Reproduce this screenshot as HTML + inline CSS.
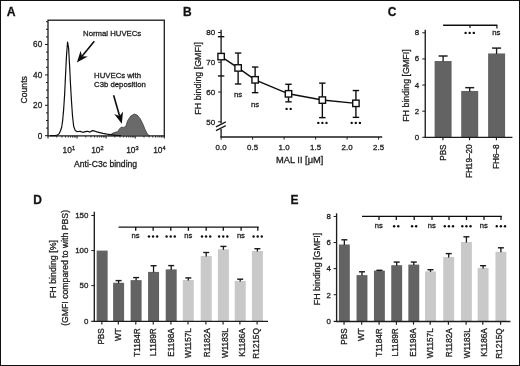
<!DOCTYPE html>
<html><head><meta charset="utf-8"><title>Figure</title>
<style>
html,body{margin:0;padding:0;background:#fff;width:520px;height:366px;overflow:hidden;}
svg{display:block;filter:grayscale(1);}
text{font-family:"Liberation Sans", sans-serif;stroke:#222;stroke-width:0.3px;}
</style></head><body>
<svg width="520" height="366" viewBox="0 0 520 366">
<defs><filter id="soft" x="-2%" y="-2%" width="104%" height="104%"><feGaussianBlur stdDeviation="0.3"/></filter></defs>
<rect x="0" y="0" width="520" height="366" fill="#fff"/>
<g filter="url(#soft)">
<text x="6.80" y="15.70" font-size="12.2" text-anchor="start" font-weight="bold" fill="#111">A</text>
<text x="182.90" y="15.80" font-size="12.0" text-anchor="start" font-weight="bold" fill="#111">B</text>
<text x="387.80" y="15.90" font-size="12.0" text-anchor="start" font-weight="bold" fill="#111">C</text>
<text x="33.30" y="203.90" font-size="12.0" text-anchor="start" font-weight="bold" fill="#111">D</text>
<text x="290.50" y="203.90" font-size="12.0" text-anchor="start" font-weight="bold" fill="#111">E</text>
<rect x="48.0" y="20.2" width="116.30000000000001" height="115.7" fill="none" stroke="#1c1c1c" stroke-width="1.3"/>
<line x1="45.00" y1="135.70" x2="48.00" y2="135.70" stroke="#1c1c1c" stroke-width="1.0"/>
<line x1="46.00" y1="128.10" x2="48.00" y2="128.10" stroke="#1c1c1c" stroke-width="1.0"/>
<line x1="46.00" y1="120.50" x2="48.00" y2="120.50" stroke="#1c1c1c" stroke-width="1.0"/>
<line x1="46.00" y1="112.90" x2="48.00" y2="112.90" stroke="#1c1c1c" stroke-width="1.0"/>
<line x1="45.00" y1="105.30" x2="48.00" y2="105.30" stroke="#1c1c1c" stroke-width="1.0"/>
<line x1="46.00" y1="97.70" x2="48.00" y2="97.70" stroke="#1c1c1c" stroke-width="1.0"/>
<line x1="46.00" y1="90.10" x2="48.00" y2="90.10" stroke="#1c1c1c" stroke-width="1.0"/>
<line x1="46.00" y1="82.50" x2="48.00" y2="82.50" stroke="#1c1c1c" stroke-width="1.0"/>
<line x1="45.00" y1="74.90" x2="48.00" y2="74.90" stroke="#1c1c1c" stroke-width="1.0"/>
<line x1="46.00" y1="67.30" x2="48.00" y2="67.30" stroke="#1c1c1c" stroke-width="1.0"/>
<line x1="46.00" y1="59.70" x2="48.00" y2="59.70" stroke="#1c1c1c" stroke-width="1.0"/>
<line x1="46.00" y1="52.10" x2="48.00" y2="52.10" stroke="#1c1c1c" stroke-width="1.0"/>
<line x1="45.00" y1="44.50" x2="48.00" y2="44.50" stroke="#1c1c1c" stroke-width="1.0"/>
<line x1="46.00" y1="36.90" x2="48.00" y2="36.90" stroke="#1c1c1c" stroke-width="1.0"/>
<line x1="46.00" y1="29.30" x2="48.00" y2="29.30" stroke="#1c1c1c" stroke-width="1.0"/>
<line x1="46.00" y1="21.70" x2="48.00" y2="21.70" stroke="#1c1c1c" stroke-width="1.0"/>
<text x="42.20" y="138.60" font-size="8.2" text-anchor="end" font-weight="normal" fill="#1e1e1e">0</text>
<text x="42.20" y="108.20" font-size="8.2" text-anchor="end" font-weight="normal" fill="#1e1e1e">20</text>
<text x="42.20" y="77.80" font-size="8.2" text-anchor="end" font-weight="normal" fill="#1e1e1e">40</text>
<text x="42.20" y="47.40" font-size="8.2" text-anchor="end" font-weight="normal" fill="#1e1e1e">60</text>
<text x="27.40" y="89.80" font-size="8.6" text-anchor="middle" font-weight="normal" fill="#1e1e1e" transform="rotate(-90 27.40 89.80)">Counts</text>
<line x1="48.00" y1="135.90" x2="48.00" y2="138.50" stroke="#1c1c1c" stroke-width="1.0"/>
<line x1="56.75" y1="135.90" x2="56.75" y2="137.50" stroke="#1c1c1c" stroke-width="0.9"/>
<line x1="61.87" y1="135.90" x2="61.87" y2="137.50" stroke="#1c1c1c" stroke-width="0.9"/>
<line x1="65.50" y1="135.90" x2="65.50" y2="137.50" stroke="#1c1c1c" stroke-width="0.9"/>
<line x1="68.32" y1="135.90" x2="68.32" y2="137.50" stroke="#1c1c1c" stroke-width="0.9"/>
<line x1="70.62" y1="135.90" x2="70.62" y2="137.50" stroke="#1c1c1c" stroke-width="0.9"/>
<line x1="72.57" y1="135.90" x2="72.57" y2="137.50" stroke="#1c1c1c" stroke-width="0.9"/>
<line x1="74.26" y1="135.90" x2="74.26" y2="137.50" stroke="#1c1c1c" stroke-width="0.9"/>
<line x1="75.74" y1="135.90" x2="75.74" y2="137.50" stroke="#1c1c1c" stroke-width="0.9"/>
<line x1="77.08" y1="135.90" x2="77.08" y2="138.50" stroke="#1c1c1c" stroke-width="1.0"/>
<line x1="85.83" y1="135.90" x2="85.83" y2="137.50" stroke="#1c1c1c" stroke-width="0.9"/>
<line x1="90.95" y1="135.90" x2="90.95" y2="137.50" stroke="#1c1c1c" stroke-width="0.9"/>
<line x1="94.58" y1="135.90" x2="94.58" y2="137.50" stroke="#1c1c1c" stroke-width="0.9"/>
<line x1="97.40" y1="135.90" x2="97.40" y2="137.50" stroke="#1c1c1c" stroke-width="0.9"/>
<line x1="99.70" y1="135.90" x2="99.70" y2="137.50" stroke="#1c1c1c" stroke-width="0.9"/>
<line x1="101.65" y1="135.90" x2="101.65" y2="137.50" stroke="#1c1c1c" stroke-width="0.9"/>
<line x1="103.33" y1="135.90" x2="103.33" y2="137.50" stroke="#1c1c1c" stroke-width="0.9"/>
<line x1="104.82" y1="135.90" x2="104.82" y2="137.50" stroke="#1c1c1c" stroke-width="0.9"/>
<line x1="106.15" y1="135.90" x2="106.15" y2="138.50" stroke="#1c1c1c" stroke-width="1.0"/>
<line x1="114.90" y1="135.90" x2="114.90" y2="137.50" stroke="#1c1c1c" stroke-width="0.9"/>
<line x1="120.02" y1="135.90" x2="120.02" y2="137.50" stroke="#1c1c1c" stroke-width="0.9"/>
<line x1="123.65" y1="135.90" x2="123.65" y2="137.50" stroke="#1c1c1c" stroke-width="0.9"/>
<line x1="126.47" y1="135.90" x2="126.47" y2="137.50" stroke="#1c1c1c" stroke-width="0.9"/>
<line x1="128.77" y1="135.90" x2="128.77" y2="137.50" stroke="#1c1c1c" stroke-width="0.9"/>
<line x1="130.72" y1="135.90" x2="130.72" y2="137.50" stroke="#1c1c1c" stroke-width="0.9"/>
<line x1="132.41" y1="135.90" x2="132.41" y2="137.50" stroke="#1c1c1c" stroke-width="0.9"/>
<line x1="133.89" y1="135.90" x2="133.89" y2="137.50" stroke="#1c1c1c" stroke-width="0.9"/>
<line x1="135.23" y1="135.90" x2="135.23" y2="138.50" stroke="#1c1c1c" stroke-width="1.0"/>
<line x1="143.98" y1="135.90" x2="143.98" y2="137.50" stroke="#1c1c1c" stroke-width="0.9"/>
<line x1="149.10" y1="135.90" x2="149.10" y2="137.50" stroke="#1c1c1c" stroke-width="0.9"/>
<line x1="152.73" y1="135.90" x2="152.73" y2="137.50" stroke="#1c1c1c" stroke-width="0.9"/>
<line x1="155.55" y1="135.90" x2="155.55" y2="137.50" stroke="#1c1c1c" stroke-width="0.9"/>
<line x1="157.85" y1="135.90" x2="157.85" y2="137.50" stroke="#1c1c1c" stroke-width="0.9"/>
<line x1="159.80" y1="135.90" x2="159.80" y2="137.50" stroke="#1c1c1c" stroke-width="0.9"/>
<line x1="161.48" y1="135.90" x2="161.48" y2="137.50" stroke="#1c1c1c" stroke-width="0.9"/>
<line x1="162.97" y1="135.90" x2="162.97" y2="137.50" stroke="#1c1c1c" stroke-width="0.9"/>
<line x1="164.30" y1="135.90" x2="164.30" y2="138.50" stroke="#1c1c1c" stroke-width="1.0"/>
<text x="62.60" y="153.1" font-size="8.4" fill="#1e1e1e">10<tspan dy="-3.6" font-size="5.6">1</tspan></text>
<text x="91.20" y="153.1" font-size="8.4" fill="#1e1e1e">10<tspan dy="-3.6" font-size="5.6">2</tspan></text>
<text x="126.20" y="153.1" font-size="8.4" fill="#1e1e1e">10<tspan dy="-3.6" font-size="5.6">3</tspan></text>
<text x="153.20" y="153.1" font-size="8.4" fill="#1e1e1e">10<tspan dy="-3.6" font-size="5.6">4</tspan></text>
<text x="105.60" y="166.80" font-size="8.6" text-anchor="middle" font-weight="normal" fill="#1e1e1e">Anti-C3c binding</text>
<path d="M108.5,135.8 L110.6,134.6 L113.7,132.7 L117.5,131.7 L119.6,128.8 L121.2,127.2 L123.8,127.4 L125.9,126.2 L127.5,120.9 L130.7,116.1 L134.4,114.0 L137.0,115.0 L140.2,118.7 L142.8,124.0 L145.0,129.3 L147.1,133.6 L148.7,135.1 L150.0,135.8 Z" fill="#6a6a6a" stroke="#3a3a3a" stroke-width="0.8"/>
<path d="M50.0,135.7 L55.0,135.6 L57.5,135.0 L59.2,133.6 L60.4,131.0 L61.6,127.5 L62.6,121.0 L63.6,110.0 L64.6,95.0 L65.5,76.0 L66.6,54.0 L67.6,42.0 L68.6,48.0 L69.6,66.0 L70.6,86.0 L71.6,103.0 L72.6,117.0 L73.7,126.5 L75.2,130.4 L77.0,131.6 L78.6,131.5 L80.3,131.4 L82.8,132.3 L85.2,131.7 L87.6,131.3 L90.0,132.1 L92.5,130.6 L94.9,131.2 L97.0,131.9 L99.7,132.6 L103.0,133.4 L107.0,134.1 L111.8,134.8 L116.0,135.4 L121.0,135.7" fill="none" stroke="#111" stroke-width="1.2" stroke-linejoin="round"/>
<line x1="94.30" y1="41.30" x2="82.01" y2="56.28" stroke="#111" stroke-width="1.6"/>
<path d="M76.90,62.50 L80.64,50.69 L82.01,56.28 L87.75,56.53 Z" fill="#111"/>
<line x1="113.60" y1="95.20" x2="119.58" y2="116.06" stroke="#111" stroke-width="1.6"/>
<path d="M121.80,123.80 L114.21,114.01 L119.58,116.06 L123.05,111.48 Z" fill="#111"/>
<text x="83.10" y="36.30" font-size="7.75" text-anchor="start" font-weight="normal" fill="#1e1e1e">Normal HUVECs</text>
<text x="94.10" y="77.80" font-size="7.75" text-anchor="start" font-weight="normal" fill="#1e1e1e">HUVECs with</text>
<text x="94.10" y="87.30" font-size="7.75" text-anchor="start" font-weight="normal" fill="#1e1e1e">C3b deposition</text>
<line x1="221.10" y1="29.80" x2="221.10" y2="123.60" stroke="#1c1c1c" stroke-width="1.35"/>
<line x1="221.10" y1="129.00" x2="221.10" y2="137.00" stroke="#1c1c1c" stroke-width="1.35"/>
<line x1="220.50" y1="137.00" x2="382.20" y2="137.00" stroke="#1c1c1c" stroke-width="1.35"/>
<line x1="218.10" y1="32.50" x2="221.10" y2="32.50" stroke="#1c1c1c" stroke-width="1.0"/>
<text x="215.20" y="35.30" font-size="8.0" text-anchor="end" font-weight="normal" fill="#1e1e1e">80</text>
<line x1="218.10" y1="62.27" x2="221.10" y2="62.27" stroke="#1c1c1c" stroke-width="1.0"/>
<text x="215.20" y="65.07" font-size="8.0" text-anchor="end" font-weight="normal" fill="#1e1e1e">70</text>
<line x1="218.10" y1="92.04" x2="221.10" y2="92.04" stroke="#1c1c1c" stroke-width="1.0"/>
<text x="215.20" y="94.84" font-size="8.0" text-anchor="end" font-weight="normal" fill="#1e1e1e">60</text>
<line x1="218.10" y1="121.81" x2="221.10" y2="121.81" stroke="#1c1c1c" stroke-width="1.0"/>
<text x="215.20" y="124.61" font-size="8.0" text-anchor="end" font-weight="normal" fill="#1e1e1e">50</text>
<line x1="216.00" y1="126.80" x2="225.80" y2="121.80" stroke="#1c1c1c" stroke-width="1.3"/>
<line x1="216.00" y1="130.60" x2="225.80" y2="125.60" stroke="#1c1c1c" stroke-width="1.3"/>
<line x1="221.10" y1="137.00" x2="221.10" y2="139.60" stroke="#1c1c1c" stroke-width="1.0"/>
<text x="221.10" y="150.00" font-size="7.9" text-anchor="middle" font-weight="normal" fill="#1e1e1e">0.0</text>
<line x1="252.60" y1="137.00" x2="252.60" y2="139.60" stroke="#1c1c1c" stroke-width="1.0"/>
<text x="252.60" y="150.00" font-size="7.9" text-anchor="middle" font-weight="normal" fill="#1e1e1e">0.5</text>
<line x1="284.10" y1="137.00" x2="284.10" y2="139.60" stroke="#1c1c1c" stroke-width="1.0"/>
<text x="284.10" y="150.00" font-size="7.9" text-anchor="middle" font-weight="normal" fill="#1e1e1e">1.0</text>
<line x1="315.60" y1="137.00" x2="315.60" y2="139.60" stroke="#1c1c1c" stroke-width="1.0"/>
<text x="315.60" y="150.00" font-size="7.9" text-anchor="middle" font-weight="normal" fill="#1e1e1e">1.5</text>
<line x1="347.10" y1="137.00" x2="347.10" y2="139.60" stroke="#1c1c1c" stroke-width="1.0"/>
<text x="347.10" y="150.00" font-size="7.9" text-anchor="middle" font-weight="normal" fill="#1e1e1e">2.0</text>
<line x1="378.60" y1="137.00" x2="378.60" y2="139.60" stroke="#1c1c1c" stroke-width="1.0"/>
<text x="378.60" y="150.00" font-size="7.9" text-anchor="middle" font-weight="normal" fill="#1e1e1e">2.5</text>
<text x="299.70" y="162.90" font-size="9.3" text-anchor="middle" font-weight="normal" fill="#1e1e1e">MAL II [μM]</text>
<text x="200.60" y="78.40" font-size="8.9" text-anchor="middle" font-weight="normal" fill="#1e1e1e" transform="rotate(-90 200.60 78.40)">FH binding [GMFI]</text>
<line x1="217.90" y1="36.67" x2="224.30" y2="36.67" stroke="#111" stroke-width="1.4"/>
<line x1="217.90" y1="75.96" x2="224.30" y2="75.96" stroke="#111" stroke-width="1.4"/>
<line x1="238.11" y1="53.04" x2="238.11" y2="84.00" stroke="#111" stroke-width="1.4"/>
<line x1="234.91" y1="53.04" x2="241.31" y2="53.04" stroke="#111" stroke-width="1.4"/>
<line x1="234.91" y1="84.00" x2="241.31" y2="84.00" stroke="#111" stroke-width="1.4"/>
<line x1="255.12" y1="67.03" x2="255.12" y2="92.64" stroke="#111" stroke-width="1.4"/>
<line x1="251.92" y1="67.03" x2="258.32" y2="67.03" stroke="#111" stroke-width="1.4"/>
<line x1="251.92" y1="92.64" x2="258.32" y2="92.64" stroke="#111" stroke-width="1.4"/>
<line x1="288.51" y1="84.30" x2="288.51" y2="101.86" stroke="#111" stroke-width="1.4"/>
<line x1="285.31" y1="84.30" x2="291.71" y2="84.30" stroke="#111" stroke-width="1.4"/>
<line x1="285.31" y1="101.86" x2="291.71" y2="101.86" stroke="#111" stroke-width="1.4"/>
<line x1="322.34" y1="83.11" x2="322.34" y2="117.64" stroke="#111" stroke-width="1.4"/>
<line x1="319.14" y1="83.11" x2="325.54" y2="83.11" stroke="#111" stroke-width="1.4"/>
<line x1="319.14" y1="117.64" x2="325.54" y2="117.64" stroke="#111" stroke-width="1.4"/>
<line x1="355.92" y1="90.55" x2="355.92" y2="117.34" stroke="#111" stroke-width="1.4"/>
<line x1="352.72" y1="90.55" x2="359.12" y2="90.55" stroke="#111" stroke-width="1.4"/>
<line x1="352.72" y1="117.34" x2="359.12" y2="117.34" stroke="#111" stroke-width="1.4"/>
<path d="M221.10,56.61 L238.11,67.93 L255.12,79.83 L288.51,93.83 L322.34,100.08 L355.92,103.35" fill="none" stroke="#111" stroke-width="1.45"/>
<rect x="217.90" y="53.41" width="6.4" height="6.4" fill="#fff" stroke="#111" stroke-width="1.4"/>
<rect x="234.91" y="64.73" width="6.4" height="6.4" fill="#fff" stroke="#111" stroke-width="1.4"/>
<rect x="251.92" y="76.63" width="6.4" height="6.4" fill="#fff" stroke="#111" stroke-width="1.4"/>
<rect x="285.31" y="90.63" width="6.4" height="6.4" fill="#fff" stroke="#111" stroke-width="1.4"/>
<rect x="319.14" y="96.88" width="6.4" height="6.4" fill="#fff" stroke="#111" stroke-width="1.4"/>
<rect x="352.72" y="100.15" width="6.4" height="6.4" fill="#fff" stroke="#111" stroke-width="1.4"/>
<text x="238.11" y="97.40" font-size="7.8" text-anchor="middle" font-weight="normal" fill="#1e1e1e">ns</text>
<text x="255.12" y="107.20" font-size="7.8" text-anchor="middle" font-weight="normal" fill="#1e1e1e">ns</text>
<circle cx="286.60" cy="108.90" r="1.2" fill="#111"/>
<circle cx="290.70" cy="108.90" r="1.2" fill="#111"/>
<circle cx="318.30" cy="122.90" r="1.2" fill="#111"/>
<circle cx="322.40" cy="122.90" r="1.2" fill="#111"/>
<circle cx="326.50" cy="122.90" r="1.2" fill="#111"/>
<circle cx="351.70" cy="122.90" r="1.2" fill="#111"/>
<circle cx="355.80" cy="122.90" r="1.2" fill="#111"/>
<circle cx="359.90" cy="122.90" r="1.2" fill="#111"/>
<line x1="422.25" y1="137.30" x2="425.25" y2="137.30" stroke="#1c1c1c" stroke-width="1.0"/>
<text x="419.10" y="139.80" font-size="7.9" text-anchor="end" font-weight="normal" fill="#1e1e1e">0</text>
<line x1="422.25" y1="111.18" x2="425.25" y2="111.18" stroke="#1c1c1c" stroke-width="1.0"/>
<text x="419.10" y="113.68" font-size="7.9" text-anchor="end" font-weight="normal" fill="#1e1e1e">2</text>
<line x1="422.25" y1="85.06" x2="425.25" y2="85.06" stroke="#1c1c1c" stroke-width="1.0"/>
<text x="419.10" y="87.56" font-size="7.9" text-anchor="end" font-weight="normal" fill="#1e1e1e">4</text>
<line x1="422.25" y1="58.94" x2="425.25" y2="58.94" stroke="#1c1c1c" stroke-width="1.0"/>
<text x="419.10" y="61.44" font-size="7.9" text-anchor="end" font-weight="normal" fill="#1e1e1e">6</text>
<line x1="422.25" y1="32.82" x2="425.25" y2="32.82" stroke="#1c1c1c" stroke-width="1.0"/>
<text x="419.10" y="35.32" font-size="7.9" text-anchor="end" font-weight="normal" fill="#1e1e1e">8</text>
<text x="408.80" y="85.60" font-size="8.9" text-anchor="middle" font-weight="normal" fill="#1e1e1e" transform="rotate(-90 408.80 85.60)">FH binding [GMFI]</text>
<rect x="434.60" y="61.03" width="17.00" height="76.27" fill="#646464"/>
<line x1="443.10" y1="56.00" x2="443.10" y2="61.53" stroke="#1a1a1a" stroke-width="1.35"/>
<line x1="438.60" y1="56.00" x2="447.60" y2="56.00" stroke="#1a1a1a" stroke-width="1.45"/>
<line x1="442.90" y1="137.30" x2="442.90" y2="140.30" stroke="#1c1c1c" stroke-width="1.15"/>
<text x="445.90" y="144.40" font-size="8.2" text-anchor="end" font-weight="normal" fill="#1e1e1e" transform="rotate(-90 445.90 144.40)">PBS</text>
<rect x="461.20" y="90.94" width="17.00" height="46.36" fill="#646464"/>
<line x1="469.70" y1="87.67" x2="469.70" y2="91.44" stroke="#1a1a1a" stroke-width="1.35"/>
<line x1="465.20" y1="87.67" x2="474.20" y2="87.67" stroke="#1a1a1a" stroke-width="1.45"/>
<line x1="469.50" y1="137.30" x2="469.50" y2="140.30" stroke="#1c1c1c" stroke-width="1.15"/>
<text x="472.00" y="144.40" font-size="8.2" text-anchor="end" font-weight="normal" fill="#1e1e1e" transform="rotate(-90 472.00 144.40)">FH19–20</text>
<rect x="488.10" y="53.45" width="17.00" height="83.85" fill="#646464"/>
<line x1="496.60" y1="48.10" x2="496.60" y2="53.95" stroke="#1a1a1a" stroke-width="1.35"/>
<line x1="492.10" y1="48.10" x2="501.10" y2="48.10" stroke="#1a1a1a" stroke-width="1.45"/>
<line x1="496.40" y1="137.30" x2="496.40" y2="140.30" stroke="#1c1c1c" stroke-width="1.15"/>
<text x="498.90" y="144.40" font-size="8.2" text-anchor="end" font-weight="normal" fill="#1e1e1e" transform="rotate(-90 498.90 144.40)">FH6–8</text>
<line x1="425.25" y1="29.80" x2="425.25" y2="137.30" stroke="#1c1c1c" stroke-width="1.35"/>
<line x1="424.65" y1="137.30" x2="512.40" y2="137.30" stroke="#1c1c1c" stroke-width="1.35"/>
<line x1="443.10" y1="25.30" x2="497.40" y2="25.30" stroke="#111" stroke-width="1.4"/>
<line x1="470.00" y1="25.30" x2="470.00" y2="28.00" stroke="#111" stroke-width="1.2"/>
<line x1="496.90" y1="25.30" x2="496.90" y2="28.60" stroke="#111" stroke-width="1.2"/>
<circle cx="465.60" cy="32.90" r="1.2" fill="#111"/>
<circle cx="469.70" cy="32.90" r="1.2" fill="#111"/>
<circle cx="473.80" cy="32.90" r="1.2" fill="#111"/>
<text x="496.40" y="35.30" font-size="7.8" text-anchor="middle" font-weight="normal" fill="#1e1e1e">ns</text>
<line x1="91.30" y1="321.35" x2="94.30" y2="321.35" stroke="#1c1c1c" stroke-width="1.2"/>
<text x="88.40" y="323.50" font-size="7.9" text-anchor="end" font-weight="normal" fill="#1e1e1e">0</text>
<line x1="91.30" y1="285.63" x2="94.30" y2="285.63" stroke="#1c1c1c" stroke-width="1.0"/>
<text x="88.40" y="288.44" font-size="7.9" text-anchor="end" font-weight="normal" fill="#1e1e1e">50</text>
<line x1="91.30" y1="250.57" x2="94.30" y2="250.57" stroke="#1c1c1c" stroke-width="1.0"/>
<text x="88.40" y="253.37" font-size="7.9" text-anchor="end" font-weight="normal" fill="#1e1e1e">100</text>
<line x1="91.30" y1="215.50" x2="94.30" y2="215.50" stroke="#1c1c1c" stroke-width="1.0"/>
<text x="88.40" y="218.31" font-size="7.9" text-anchor="end" font-weight="normal" fill="#1e1e1e">150</text>
<rect x="96.65" y="250.60" width="11.00" height="70.75" fill="#646464"/>
<line x1="101.85" y1="321.35" x2="101.85" y2="324.55" stroke="#1c1c1c" stroke-width="1.15"/>
<text x="104.45" y="328.20" font-size="8.2" text-anchor="end" font-weight="normal" fill="#1e1e1e" transform="rotate(-90 104.45 328.20)">PBS</text>
<rect x="113.10" y="282.80" width="11.00" height="38.55" fill="#646464"/>
<line x1="118.60" y1="280.60" x2="118.60" y2="283.30" stroke="#1a1a1a" stroke-width="1.3"/>
<line x1="115.60" y1="280.60" x2="121.60" y2="280.60" stroke="#1a1a1a" stroke-width="1.4"/>
<line x1="118.30" y1="321.35" x2="118.30" y2="324.55" stroke="#1c1c1c" stroke-width="1.15"/>
<text x="121.30" y="328.20" font-size="8.2" text-anchor="end" font-weight="normal" fill="#1e1e1e" transform="rotate(-90 121.30 328.20)">WT</text>
<rect x="130.60" y="280.10" width="11.00" height="41.25" fill="#646464"/>
<line x1="136.10" y1="277.60" x2="136.10" y2="280.60" stroke="#1a1a1a" stroke-width="1.3"/>
<line x1="133.10" y1="277.60" x2="139.10" y2="277.60" stroke="#1a1a1a" stroke-width="1.4"/>
<line x1="135.80" y1="321.35" x2="135.80" y2="324.55" stroke="#1c1c1c" stroke-width="1.15"/>
<text x="140.20" y="328.20" font-size="8.2" text-anchor="end" font-weight="normal" fill="#1e1e1e" transform="rotate(-90 140.20 328.20)">T1184R</text>
<rect x="148.05" y="271.90" width="11.00" height="49.45" fill="#646464"/>
<line x1="153.55" y1="265.70" x2="153.55" y2="272.40" stroke="#1a1a1a" stroke-width="1.3"/>
<line x1="150.55" y1="265.70" x2="156.55" y2="265.70" stroke="#1a1a1a" stroke-width="1.4"/>
<line x1="153.25" y1="321.35" x2="153.25" y2="324.55" stroke="#1c1c1c" stroke-width="1.15"/>
<text x="155.65" y="328.20" font-size="8.2" text-anchor="end" font-weight="normal" fill="#1e1e1e" transform="rotate(-90 155.65 328.20)">L1189R</text>
<rect x="165.70" y="269.40" width="11.00" height="51.95" fill="#646464"/>
<line x1="171.20" y1="265.60" x2="171.20" y2="269.90" stroke="#1a1a1a" stroke-width="1.3"/>
<line x1="168.20" y1="265.60" x2="174.20" y2="265.60" stroke="#1a1a1a" stroke-width="1.4"/>
<line x1="170.90" y1="321.35" x2="170.90" y2="324.55" stroke="#1c1c1c" stroke-width="1.15"/>
<text x="174.30" y="328.20" font-size="8.2" text-anchor="end" font-weight="normal" fill="#1e1e1e" transform="rotate(-90 174.30 328.20)">E1198A</text>
<rect x="182.80" y="280.00" width="11.00" height="41.35" fill="#c9c9c9"/>
<line x1="188.30" y1="277.90" x2="188.30" y2="280.50" stroke="#1a1a1a" stroke-width="1.3"/>
<line x1="185.30" y1="277.90" x2="191.30" y2="277.90" stroke="#1a1a1a" stroke-width="1.4"/>
<line x1="188.00" y1="321.35" x2="188.00" y2="324.55" stroke="#1c1c1c" stroke-width="1.15"/>
<text x="191.40" y="328.20" font-size="8.2" text-anchor="end" font-weight="normal" fill="#1e1e1e" transform="rotate(-90 191.40 328.20)">W1157L</text>
<rect x="200.70" y="255.90" width="11.00" height="65.45" fill="#c9c9c9"/>
<line x1="206.20" y1="252.50" x2="206.20" y2="256.40" stroke="#1a1a1a" stroke-width="1.3"/>
<line x1="203.20" y1="252.50" x2="209.20" y2="252.50" stroke="#1a1a1a" stroke-width="1.4"/>
<line x1="205.90" y1="321.35" x2="205.90" y2="324.55" stroke="#1c1c1c" stroke-width="1.15"/>
<text x="210.30" y="328.20" font-size="8.2" text-anchor="end" font-weight="normal" fill="#1e1e1e" transform="rotate(-90 210.30 328.20)">R1182A</text>
<rect x="217.90" y="249.30" width="11.00" height="72.05" fill="#c9c9c9"/>
<line x1="223.40" y1="246.40" x2="223.40" y2="249.80" stroke="#1a1a1a" stroke-width="1.3"/>
<line x1="220.40" y1="246.40" x2="226.40" y2="246.40" stroke="#1a1a1a" stroke-width="1.4"/>
<line x1="223.10" y1="321.35" x2="223.10" y2="324.55" stroke="#1c1c1c" stroke-width="1.15"/>
<text x="228.50" y="328.20" font-size="8.2" text-anchor="end" font-weight="normal" fill="#1e1e1e" transform="rotate(-90 228.50 328.20)">W1183L</text>
<rect x="234.70" y="280.90" width="11.00" height="40.45" fill="#c9c9c9"/>
<line x1="240.20" y1="279.20" x2="240.20" y2="281.40" stroke="#1a1a1a" stroke-width="1.3"/>
<line x1="237.20" y1="279.20" x2="243.20" y2="279.20" stroke="#1a1a1a" stroke-width="1.4"/>
<line x1="239.90" y1="321.35" x2="239.90" y2="324.55" stroke="#1c1c1c" stroke-width="1.15"/>
<text x="245.10" y="328.20" font-size="8.2" text-anchor="end" font-weight="normal" fill="#1e1e1e" transform="rotate(-90 245.10 328.20)">K1186A</text>
<rect x="251.90" y="251.00" width="11.00" height="70.35" fill="#c9c9c9"/>
<line x1="257.40" y1="248.70" x2="257.40" y2="251.50" stroke="#1a1a1a" stroke-width="1.3"/>
<line x1="254.40" y1="248.70" x2="260.40" y2="248.70" stroke="#1a1a1a" stroke-width="1.4"/>
<line x1="257.10" y1="321.35" x2="257.10" y2="324.55" stroke="#1c1c1c" stroke-width="1.15"/>
<text x="258.90" y="328.20" font-size="8.2" text-anchor="end" font-weight="normal" fill="#1e1e1e" transform="rotate(-90 258.90 328.20)">R1215Q</text>
<line x1="94.30" y1="211.80" x2="94.30" y2="321.35" stroke="#1c1c1c" stroke-width="1.35"/>
<line x1="93.70" y1="321.35" x2="268.00" y2="321.35" stroke="#1c1c1c" stroke-width="1.35"/>
<line x1="118.60" y1="227.10" x2="258.70" y2="227.10" stroke="#111" stroke-width="1.4"/>
<line x1="135.70" y1="227.10" x2="135.70" y2="230.80" stroke="#111" stroke-width="1.3"/>
<text x="135.50" y="238.20" font-size="7.6" text-anchor="middle" font-weight="normal" fill="#1e1e1e">ns</text>
<line x1="153.15" y1="227.10" x2="153.15" y2="230.80" stroke="#111" stroke-width="1.3"/>
<circle cx="148.95" cy="236.50" r="1.2" fill="#111"/>
<circle cx="153.05" cy="236.50" r="1.2" fill="#111"/>
<circle cx="157.15" cy="236.50" r="1.2" fill="#111"/>
<line x1="170.80" y1="227.10" x2="170.80" y2="230.80" stroke="#111" stroke-width="1.3"/>
<circle cx="166.60" cy="236.50" r="1.2" fill="#111"/>
<circle cx="170.70" cy="236.50" r="1.2" fill="#111"/>
<circle cx="174.80" cy="236.50" r="1.2" fill="#111"/>
<line x1="188.40" y1="227.10" x2="188.40" y2="230.80" stroke="#111" stroke-width="1.3"/>
<text x="188.20" y="238.20" font-size="7.6" text-anchor="middle" font-weight="normal" fill="#1e1e1e">ns</text>
<line x1="206.20" y1="227.10" x2="206.20" y2="230.80" stroke="#111" stroke-width="1.3"/>
<circle cx="202.00" cy="236.50" r="1.2" fill="#111"/>
<circle cx="206.10" cy="236.50" r="1.2" fill="#111"/>
<circle cx="210.20" cy="236.50" r="1.2" fill="#111"/>
<line x1="223.30" y1="227.10" x2="223.30" y2="230.80" stroke="#111" stroke-width="1.3"/>
<circle cx="219.10" cy="236.50" r="1.2" fill="#111"/>
<circle cx="223.20" cy="236.50" r="1.2" fill="#111"/>
<circle cx="227.30" cy="236.50" r="1.2" fill="#111"/>
<line x1="241.10" y1="227.10" x2="241.10" y2="230.80" stroke="#111" stroke-width="1.3"/>
<text x="240.90" y="238.20" font-size="7.6" text-anchor="middle" font-weight="normal" fill="#1e1e1e">ns</text>
<line x1="257.80" y1="227.10" x2="257.80" y2="230.80" stroke="#111" stroke-width="1.3"/>
<circle cx="253.60" cy="236.50" r="1.2" fill="#111"/>
<circle cx="257.70" cy="236.50" r="1.2" fill="#111"/>
<circle cx="261.80" cy="236.50" r="1.2" fill="#111"/>
<text x="56.20" y="269.00" font-size="8.9" text-anchor="middle" font-weight="normal" fill="#1e1e1e" transform="rotate(-90 56.20 269.00)">FH binding [%]</text>
<text x="68.50" y="267.90" font-size="8.7" text-anchor="middle" font-weight="normal" fill="#1e1e1e" transform="rotate(-90 68.50 267.90)">(GMFI compared to with PBS)</text>
<line x1="333.60" y1="321.45" x2="336.60" y2="321.45" stroke="#1c1c1c" stroke-width="1.2"/>
<text x="331.00" y="323.60" font-size="7.9" text-anchor="end" font-weight="normal" fill="#1e1e1e">0</text>
<line x1="333.60" y1="294.72" x2="336.60" y2="294.72" stroke="#1c1c1c" stroke-width="1.0"/>
<text x="331.00" y="297.52" font-size="7.9" text-anchor="end" font-weight="normal" fill="#1e1e1e">2</text>
<line x1="333.60" y1="268.64" x2="336.60" y2="268.64" stroke="#1c1c1c" stroke-width="1.0"/>
<text x="331.00" y="271.44" font-size="7.9" text-anchor="end" font-weight="normal" fill="#1e1e1e">4</text>
<line x1="333.60" y1="242.56" x2="336.60" y2="242.56" stroke="#1c1c1c" stroke-width="1.0"/>
<text x="331.00" y="245.36" font-size="7.9" text-anchor="end" font-weight="normal" fill="#1e1e1e">6</text>
<line x1="333.60" y1="216.48" x2="336.60" y2="216.48" stroke="#1c1c1c" stroke-width="1.0"/>
<text x="331.00" y="219.28" font-size="7.9" text-anchor="end" font-weight="normal" fill="#1e1e1e">8</text>
<rect x="338.90" y="244.50" width="10.90" height="76.95" fill="#646464"/>
<line x1="344.35" y1="239.80" x2="344.35" y2="245.00" stroke="#1a1a1a" stroke-width="1.3"/>
<line x1="341.35" y1="239.80" x2="347.35" y2="239.80" stroke="#1a1a1a" stroke-width="1.4"/>
<line x1="344.05" y1="321.45" x2="344.05" y2="324.65" stroke="#1c1c1c" stroke-width="1.15"/>
<text x="346.65" y="328.30" font-size="8.2" text-anchor="end" font-weight="normal" fill="#1e1e1e" transform="rotate(-90 346.65 328.30)">PBS</text>
<rect x="356.55" y="275.10" width="10.90" height="46.35" fill="#646464"/>
<line x1="362.00" y1="271.80" x2="362.00" y2="275.60" stroke="#1a1a1a" stroke-width="1.3"/>
<line x1="359.00" y1="271.80" x2="365.00" y2="271.80" stroke="#1a1a1a" stroke-width="1.4"/>
<line x1="361.70" y1="321.45" x2="361.70" y2="324.65" stroke="#1c1c1c" stroke-width="1.15"/>
<text x="364.00" y="328.30" font-size="8.2" text-anchor="end" font-weight="normal" fill="#1e1e1e" transform="rotate(-90 364.00 328.30)">WT</text>
<rect x="373.95" y="270.60" width="10.90" height="50.85" fill="#646464"/>
<line x1="379.40" y1="270.30" x2="379.40" y2="271.10" stroke="#1a1a1a" stroke-width="1.3"/>
<line x1="376.40" y1="270.30" x2="382.40" y2="270.30" stroke="#1a1a1a" stroke-width="1.4"/>
<line x1="379.10" y1="321.45" x2="379.10" y2="324.65" stroke="#1c1c1c" stroke-width="1.15"/>
<text x="382.40" y="328.30" font-size="8.2" text-anchor="end" font-weight="normal" fill="#1e1e1e" transform="rotate(-90 382.40 328.30)">T1184R</text>
<rect x="391.25" y="265.20" width="10.90" height="56.25" fill="#646464"/>
<line x1="396.70" y1="262.10" x2="396.70" y2="265.70" stroke="#1a1a1a" stroke-width="1.3"/>
<line x1="393.70" y1="262.10" x2="399.70" y2="262.10" stroke="#1a1a1a" stroke-width="1.4"/>
<line x1="396.40" y1="321.45" x2="396.40" y2="324.65" stroke="#1c1c1c" stroke-width="1.15"/>
<text x="398.40" y="328.30" font-size="8.2" text-anchor="end" font-weight="normal" fill="#1e1e1e" transform="rotate(-90 398.40 328.30)">L1189R</text>
<rect x="408.35" y="264.60" width="10.90" height="56.85" fill="#646464"/>
<line x1="413.80" y1="262.10" x2="413.80" y2="265.10" stroke="#1a1a1a" stroke-width="1.3"/>
<line x1="410.80" y1="262.10" x2="416.80" y2="262.10" stroke="#1a1a1a" stroke-width="1.4"/>
<line x1="413.50" y1="321.45" x2="413.50" y2="324.65" stroke="#1c1c1c" stroke-width="1.15"/>
<text x="416.20" y="328.30" font-size="8.2" text-anchor="end" font-weight="normal" fill="#1e1e1e" transform="rotate(-90 416.20 328.30)">E1198A</text>
<rect x="425.05" y="271.40" width="10.90" height="50.05" fill="#c9c9c9"/>
<line x1="430.50" y1="269.70" x2="430.50" y2="271.90" stroke="#1a1a1a" stroke-width="1.3"/>
<line x1="427.50" y1="269.70" x2="433.50" y2="269.70" stroke="#1a1a1a" stroke-width="1.4"/>
<line x1="430.20" y1="321.45" x2="430.20" y2="324.65" stroke="#1c1c1c" stroke-width="1.15"/>
<text x="433.20" y="328.30" font-size="8.2" text-anchor="end" font-weight="normal" fill="#1e1e1e" transform="rotate(-90 433.20 328.30)">W1157L</text>
<rect x="443.25" y="257.00" width="10.90" height="64.45" fill="#c9c9c9"/>
<line x1="448.70" y1="253.60" x2="448.70" y2="257.50" stroke="#1a1a1a" stroke-width="1.3"/>
<line x1="445.70" y1="253.60" x2="451.70" y2="253.60" stroke="#1a1a1a" stroke-width="1.4"/>
<line x1="448.40" y1="321.45" x2="448.40" y2="324.65" stroke="#1c1c1c" stroke-width="1.15"/>
<text x="452.50" y="328.30" font-size="8.2" text-anchor="end" font-weight="normal" fill="#1e1e1e" transform="rotate(-90 452.50 328.30)">R1182A</text>
<rect x="460.95" y="242.00" width="10.90" height="79.45" fill="#c9c9c9"/>
<line x1="466.40" y1="236.80" x2="466.40" y2="242.50" stroke="#1a1a1a" stroke-width="1.3"/>
<line x1="463.40" y1="236.80" x2="469.40" y2="236.80" stroke="#1a1a1a" stroke-width="1.4"/>
<line x1="466.10" y1="321.45" x2="466.10" y2="324.65" stroke="#1c1c1c" stroke-width="1.15"/>
<text x="470.50" y="328.30" font-size="8.2" text-anchor="end" font-weight="normal" fill="#1e1e1e" transform="rotate(-90 470.50 328.30)">W1183L</text>
<rect x="477.65" y="267.90" width="10.90" height="53.55" fill="#c9c9c9"/>
<line x1="483.10" y1="265.70" x2="483.10" y2="268.40" stroke="#1a1a1a" stroke-width="1.3"/>
<line x1="480.10" y1="265.70" x2="486.10" y2="265.70" stroke="#1a1a1a" stroke-width="1.4"/>
<line x1="482.80" y1="321.45" x2="482.80" y2="324.65" stroke="#1c1c1c" stroke-width="1.15"/>
<text x="487.30" y="328.30" font-size="8.2" text-anchor="end" font-weight="normal" fill="#1e1e1e" transform="rotate(-90 487.30 328.30)">K1186A</text>
<rect x="495.45" y="251.80" width="10.90" height="69.65" fill="#c9c9c9"/>
<line x1="500.90" y1="247.80" x2="500.90" y2="252.30" stroke="#1a1a1a" stroke-width="1.3"/>
<line x1="497.90" y1="247.80" x2="503.90" y2="247.80" stroke="#1a1a1a" stroke-width="1.4"/>
<line x1="500.60" y1="321.45" x2="500.60" y2="324.65" stroke="#1c1c1c" stroke-width="1.15"/>
<text x="502.40" y="328.30" font-size="8.2" text-anchor="end" font-weight="normal" fill="#1e1e1e" transform="rotate(-90 502.40 328.30)">R1215Q</text>
<line x1="336.60" y1="213.30" x2="336.60" y2="321.45" stroke="#1c1c1c" stroke-width="1.35"/>
<line x1="336.00" y1="321.45" x2="510.40" y2="321.45" stroke="#1c1c1c" stroke-width="1.35"/>
<line x1="362.00" y1="216.40" x2="501.90" y2="216.40" stroke="#111" stroke-width="1.4"/>
<line x1="379.00" y1="216.40" x2="379.00" y2="220.10" stroke="#111" stroke-width="1.3"/>
<text x="378.80" y="227.60" font-size="7.6" text-anchor="middle" font-weight="normal" fill="#1e1e1e">ns</text>
<line x1="396.30" y1="216.40" x2="396.30" y2="220.10" stroke="#111" stroke-width="1.3"/>
<circle cx="394.15" cy="226.30" r="1.2" fill="#111"/>
<circle cx="398.25" cy="226.30" r="1.2" fill="#111"/>
<line x1="414.20" y1="216.40" x2="414.20" y2="220.10" stroke="#111" stroke-width="1.3"/>
<circle cx="412.05" cy="226.30" r="1.2" fill="#111"/>
<circle cx="416.15" cy="226.30" r="1.2" fill="#111"/>
<line x1="432.00" y1="216.40" x2="432.00" y2="220.10" stroke="#111" stroke-width="1.3"/>
<text x="431.80" y="227.60" font-size="7.6" text-anchor="middle" font-weight="normal" fill="#1e1e1e">ns</text>
<line x1="449.00" y1="216.40" x2="449.00" y2="220.10" stroke="#111" stroke-width="1.3"/>
<circle cx="444.80" cy="226.30" r="1.2" fill="#111"/>
<circle cx="448.90" cy="226.30" r="1.2" fill="#111"/>
<circle cx="453.00" cy="226.30" r="1.2" fill="#111"/>
<line x1="466.50" y1="216.40" x2="466.50" y2="220.10" stroke="#111" stroke-width="1.3"/>
<circle cx="462.30" cy="226.30" r="1.2" fill="#111"/>
<circle cx="466.40" cy="226.30" r="1.2" fill="#111"/>
<circle cx="470.50" cy="226.30" r="1.2" fill="#111"/>
<line x1="484.00" y1="216.40" x2="484.00" y2="220.10" stroke="#111" stroke-width="1.3"/>
<text x="483.80" y="227.60" font-size="7.6" text-anchor="middle" font-weight="normal" fill="#1e1e1e">ns</text>
<line x1="501.00" y1="216.40" x2="501.00" y2="220.10" stroke="#111" stroke-width="1.3"/>
<circle cx="496.80" cy="226.30" r="1.2" fill="#111"/>
<circle cx="500.90" cy="226.30" r="1.2" fill="#111"/>
<circle cx="505.00" cy="226.30" r="1.2" fill="#111"/>
<text x="320.30" y="269.00" font-size="8.9" text-anchor="middle" font-weight="normal" fill="#1e1e1e" transform="rotate(-90 320.30 269.00)">FH binding [GMFI]</text>
</g>
<rect x="0.5" y="0.5" width="519" height="365" fill="none" stroke="#111" stroke-width="1"/>
</svg>
</body></html>
